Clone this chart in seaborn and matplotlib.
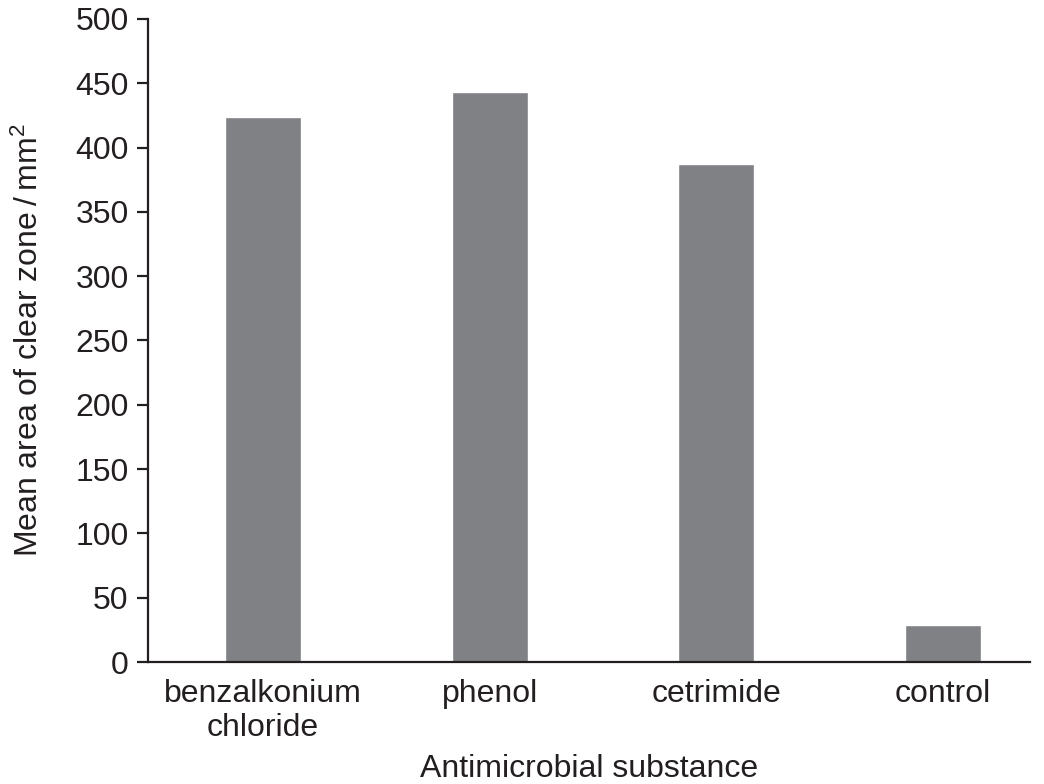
import matplotlib
matplotlib.use("Agg")
import matplotlib.pyplot as plt
import seaborn as sns
import pandas as pd

# --- DATA ---
substances = ["benzalkonium\nchloride", "phenol", "cetrimide", "control"]
mean_area = [424, 443, 387, 29]

BAR_COLOR = "#808184"
INK = "#231f20"
FS = 23

sns.set_theme(style="white")
plt.rcParams["font.family"] = ["Liberation Sans", "DejaVu Sans"]
plt.rcParams["mathtext.fontset"] = "custom"
plt.rcParams["mathtext.rm"] = "Liberation Sans"
plt.rcParams["mathtext.it"] = "Liberation Sans:italic"

df = pd.DataFrame({"substance": substances, "area": mean_area})

fig = plt.figure(figsize=(10.44, 7.84), dpi=100)
ax = fig.add_axes([0.1418, 0.1556, 0.8448, 0.8202])

sns.barplot(data=df, x="substance", y="area", color=BAR_COLOR,
            width=0.335, saturation=1, ax=ax)

ax.set_xlim(-0.507, 3.383)
ax.set_ylim(0, 500)
ax.set_yticks(range(0, 501, 50))

for side in ["top", "right"]:
    ax.spines[side].set_visible(False)
for side in ["left", "bottom"]:
    ax.spines[side].set_color(INK)
    ax.spines[side].set_linewidth(1.6)

ax.tick_params(axis="y", direction="out", length=8, width=1.6, color=INK,
               labelsize=FS, labelcolor=INK, pad=6, left=True)
ax.tick_params(axis="x", length=0, labelsize=FS, labelcolor=INK, pad=12)

ax.set_xlabel("Antimicrobial substance", fontsize=FS, color=INK, labelpad=8)
ax.set_ylabel("Mean area of clear zone\u2009/\u2009mm$^2$", fontsize=FS,
              color=INK, labelpad=22)

fig.savefig("out.png", dpi=100)
